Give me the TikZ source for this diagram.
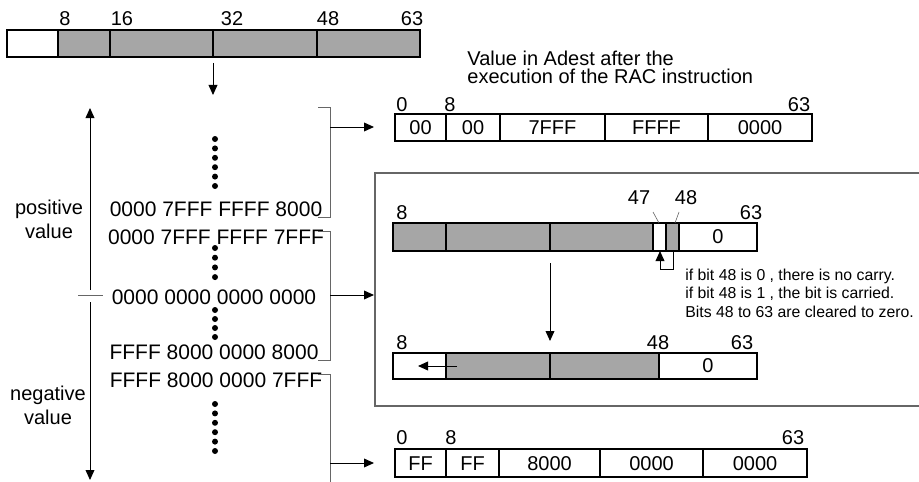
\documentclass[tikz,border=0pt]{standalone}
\usepackage{fontspec}
\setmainfont{Liberation Sans}
\usepackage{tikz}
\usetikzlibrary{arrows.meta}
\definecolor{fieldgray}{HTML}{A6A6A6}
\definecolor{framegray}{HTML}{666666}
\tikzset{
  lbl/.style={font=\fontsize{10}{12}\selectfont, inner sep=0pt},
  rowtxt/.style={font=\fontsize{10.5}{12}\selectfont, inner sep=0pt},
  note/.style={font=\fontsize{7.9}{9.3}\selectfont, inner sep=0pt, align=left, anchor=west},
  arr/.style={-{Triangle[length=5pt,width=4.4pt]}, line width=0.5pt},
  brk/.style={framegray, line width=0.5pt},
}

\begin{document}
\begin{tikzpicture}[x=0.5pt,y=-0.5pt]
\useasboundingbox (0,0) rectangle (919,481);
% source register
\fill[fieldgray] (58,30) rectangle (420,57);
\draw[line width=1.3pt] (7,30) rectangle (420,57);
\foreach \x in {58,110,213,317} \draw[line width=1.3pt] (\x,30) -- (\x,57);
\node[lbl] (s8)  at (65,19)  {8};
\node[lbl] (s16) at (122,19) {16};
\node[lbl] (s32) at (232,19) {32};
\node[lbl] (s48) at (328,19) {48};
\node[lbl] (s63) at (412,19) {63};
\coordinate (srcout) at (213,63);
\coordinate (srcin) at (213,95);
\draw[arr] (srcout) -- (srcin);

% sign axis
\coordinate (zeroup) at (90,290);
\coordinate (zerodn) at (90,302);
\coordinate (postop) at (90,108);
\coordinate (negbot) at (90,480);
\draw[arr] (zeroup) -- (postop);
\draw[arr] (zerodn) -- (negbot);
\draw[brk] (78,295) -- (103,295);
\node[lbl, align=center] (posval) at (49,219) {positive\\value};
\node[lbl, align=center] (negval) at (48,405) {negative\\value};

% accumulator values
\node[rowtxt] (rowA) at (216,209) {0000 7FFF FFFF 8000};
\node[rowtxt] (rowB) at (216,237) {0000 7FFF FFFF 7FFF};
\node[rowtxt] (rowC) at (214,297) {0000 0000 0000 0000};
\node[rowtxt] (rowD) at (214,352) {FFFF 8000 0000 8000};
\node[rowtxt] (rowE) at (216,380) {FFFF 8000 0000 7FFF};
\foreach \k in {0,...,5} \fill (215,139+9.4*\k) circle (1.5pt);
\foreach \k in {0,...,3} \fill (215,248+9.7*\k) circle (1.5pt);
\foreach \k in {0,...,3} \fill (215,310+9*\k) circle (1.5pt);
\foreach \k in {0,...,5} \fill (215,404+9.4*\k) circle (1.5pt);

% brackets and arrows
\draw[brk] (318,107) -- (330,107) -- (330,217) -- (318,217);
\draw[brk] (318,231) -- (330,231) -- (330,360) -- (318,360);
\draw[brk] (318,374) -- (330,374) -- (330,485);
\coordinate (outpos) at (330,127);
\coordinate (inpos) at (374,127);
\coordinate (outzero) at (330,295);
\coordinate (inzero) at (374,295);
\coordinate (outneg) at (330,463);
\coordinate (inneg) at (374,463);
\draw[arr] (outpos) -- (inpos);
\draw[arr] (outzero) -- (inzero);
\draw[arr] (outneg) -- (inneg);

% result for large positive value
\node[lbl, align=left, anchor=west] (title) at (467,67) {Value in Adest after the\\[-3pt]execution of the RAC instruction};
\draw[line width=0.8pt] (395,114) rectangle (812,141);
\foreach \x in {446,500,605,708} \draw[line width=0.8pt] (\x,114) -- (\x,141);
\node[lbl] (p0)  at (402,105) {0};
\node[lbl] (p8)  at (450,105) {8};
\node[lbl] (p63) at (799,105) {63};
\node[lbl] (pa) at (420.5,127.5) {00};
\node[lbl] (pb) at (473,127.5)   {00};
\node[lbl] (pc) at (552.5,127.5) {7FFF};
\node[lbl] (pd) at (656.5,127.5) {FFFF};
\node[lbl] (pe) at (760,127.5)   {0000};

% rounding in between
\draw[framegray, line width=0.6pt] (925,173) -- (375,173) -- (375,406) -- (925,406);
\fill[fieldgray] (393,223) rectangle (653,251);
\fill[fieldgray] (666,223) rectangle (679,251);
\draw[line width=1pt] (393,223) rectangle (757,251);
\foreach \x in {446,550,653,666,679} \draw[line width=1pt] (\x,223) -- (\x,251);
\node[lbl] (m0) at (718,237) {0};
\node[lbl] (m8)  at (402,213) {8};
\node[lbl] (m47) at (639,198) {47};
\node[lbl] (m48) at (686,198) {48};
\node[lbl] (m63) at (751,213) {63};
\draw[framegray, line width=0.3pt] (653,212) -- (659,223);
\draw[framegray, line width=0.3pt] (679,212) -- (675,223);
\coordinate (bit48) at (673,251);
\coordinate (bit47) at (660,251);
\draw[arr] (bit48) |- (660,269) -- (bit47);
\node[note] (carry) at (685,293) {if bit 48 is 0 , there is no carry.\\if bit 48 is 1 , the bit is carried.\\Bits 48 to 63 are cleared to zero.};
\coordinate (rndout) at (550,263);
\coordinate (rndin) at (550,341);
\draw[arr] (rndout) -- (rndin);
\fill[fieldgray] (446,353) rectangle (659,379);
\draw[line width=1pt] (393,353) rectangle (757,379);
\foreach \x in {446,550,659} \draw[line width=1pt] (\x,353) -- (\x,379);
\node[lbl] (n0)  at (708,366) {0};
\node[lbl] (n8)  at (402,343) {8};
\node[lbl] (n48) at (658,343) {48};
\node[lbl] (n63) at (742,343) {63};
\coordinate (shiftfrom) at (457,366);
\coordinate (shiftto) at (418,366);
\draw[arr] (shiftfrom) -- (shiftto);

% result for large negative value
\draw[line width=0.8pt] (395,449) rectangle (807,477);
\foreach \x in {446,499,600,703} \draw[line width=0.8pt] (\x,449) -- (\x,477);
\node[lbl] (q0)  at (402,438) {0};
\node[lbl] (q8)  at (451,438) {8};
\node[lbl] (q63) at (793,438) {63};
\node[lbl] (qa) at (420.5,464) {FF};
\node[lbl] (qb) at (472.5,464) {FF};
\node[lbl] (qc) at (549.5,464) {8000};
\node[lbl] (qd) at (651.5,464) {0000};
\node[lbl] (qe) at (755,464)   {0000};
\end{tikzpicture}
\end{document}
